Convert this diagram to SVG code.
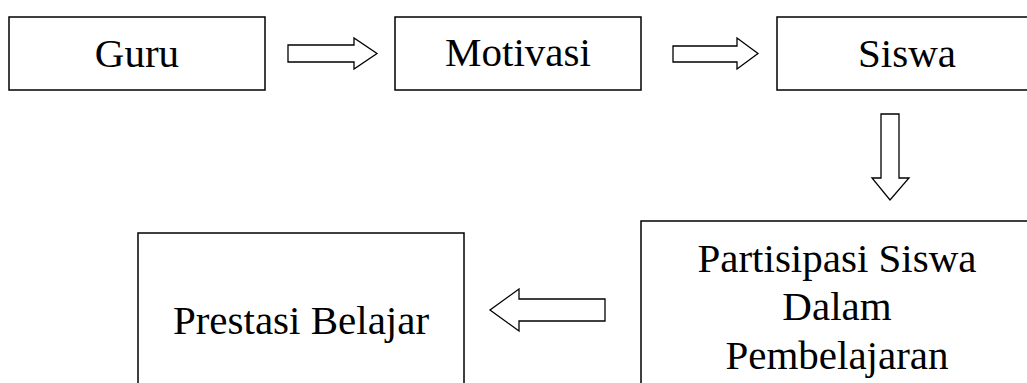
<svg xmlns="http://www.w3.org/2000/svg" width="1027" height="383" viewBox="0 0 1027 383">
  <style>
    .box { fill: #ffffff; stroke: #000000; stroke-width: 1.5; }
    .arrow { fill: #ffffff; stroke: #000000; stroke-width: 1.3; stroke-linejoin: miter; }
    .label { font-family: "Liberation Serif", "Times New Roman", serif; font-size: 41px; fill: #000000; text-anchor: middle; }
  </style>
  <rect width="1027" height="383" fill="#ffffff"/>

  <g id="node-guru">
    <rect class="box" x="9" y="17" width="256" height="73"/>
    <text class="label" x="137" y="67">Guru</text>
  </g>

  <g id="node-motivasi">
    <rect class="box" x="395" y="17" width="246" height="73"/>
    <text class="label" x="518" y="66">Motivasi</text>
  </g>

  <g id="node-siswa">
    <rect class="box" x="777" y="17" width="262" height="73"/>
    <text class="label" x="907" y="67">Siswa</text>
  </g>

  <g id="node-partisipasi">
    <rect class="box" x="641" y="221" width="394" height="180"/>
    <text class="label" x="837" y="272">Partisipasi Siswa</text>
    <text class="label" x="837" y="320">Dalam</text>
    <text class="label" x="837" y="369">Pembelajaran</text>
  </g>

  <g id="node-prestasi">
    <rect class="box" x="138" y="233" width="326" height="170"/>
    <text class="label" x="301" y="334">Prestasi Belajar</text>
  </g>

  <g id="connectors">
    <!-- Guru to Motivasi -->
    <polygon class="arrow" points="288,45 354,45 354,38 377,53.5 354,69 354,62 288,62"/>
    <!-- Motivasi to Siswa -->
    <polygon class="arrow" points="673,46 737,46 737,38 758,53.5 737,69 737,62 673,62"/>
    <!-- Siswa down to Partisipasi -->
    <polygon class="arrow" points="881,114 899,114 899,178 909,178 890,200 872,178 881,178"/>
    <!-- Partisipasi to Prestasi -->
    <polygon class="arrow" points="605,299 519,299 519,289 490,310 519,331 519,321 605,321"/>
  </g>
</svg>
